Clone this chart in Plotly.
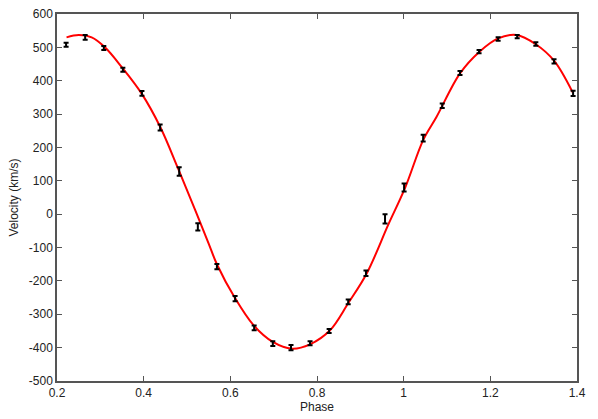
import plotly.graph_objects as go

# observed radial velocities (phase, km/s, error)
obs_phase = [0.221, 0.265, 0.308, 0.352, 0.396, 0.438, 0.482, 0.525, 0.569, 0.611,
             0.655, 0.698, 0.740, 0.784, 0.828, 0.872, 0.913, 0.957, 1.001, 1.045,
             1.089, 1.130, 1.174, 1.218, 1.262, 1.305, 1.347, 1.391]
obs_velocity = [508, 530, 498, 433, 362, 260, 128, -38, -157, -253,
                -341, -388, -400, -387, -350, -263, -177, -14, 80, 228,
                325, 423, 487, 525, 532, 510, 458, 362]
obs_error = [6, 7, 6, 6, 7, 9, 13, 11, 8, 8,
             7, 7, 8, 6, 6, 7, 8, 14, 12, 10,
             7, 6, 5, 5, 5, 5, 6, 8]

# fitted orbit
fit_phase = [0.222, 0.25, 0.28, 0.31, 0.35, 0.395, 0.438, 0.48, 0.518, 0.55,
             0.569, 0.611, 0.653, 0.698, 0.742, 0.784, 0.83, 0.872, 0.915, 0.965,
             1.003, 1.045, 1.076, 1.13, 1.175, 1.218, 1.261, 1.304, 1.347, 1.39]
fit_velocity = [530, 537, 530, 501, 440, 362, 262, 135, 15, -88,
                -150, -252, -332, -383, -403, -390, -348, -267, -177, -30,
                78, 222, 292, 422, 487, 527, 537, 510, 460, 365]

x_ticks = [0.2, 0.4, 0.6, 0.8, 1.0, 1.2, 1.4]
x_ticktext = ["0.2", "0.4", "0.6", "0.8", "1", "1.2", "1.4"]
y_ticks = list(range(-500, 601, 100))
y_ticktext = [str(v) for v in y_ticks]  # plain hyphen minus, like the original

FONT = "Liberation Sans, Arial, Helvetica, sans-serif"

fig = go.Figure()
fig.add_trace(go.Scatter(
    x=fit_phase, y=fit_velocity, mode="lines",
    line=dict(color="#ff0000", width=2, shape="spline", smoothing=1.0),
    showlegend=False, hoverinfo="skip",
))
fig.add_trace(go.Scatter(
    x=obs_phase, y=obs_velocity, mode="markers",
    marker=dict(size=1, color="black"),
    error_y=dict(type="data", array=obs_error, visible=True,
                 color="black", thickness=2, width=2.5),
    showlegend=False,
))

axis_style = dict(
    showline=True, linecolor="#555555", linewidth=1.5, mirror="ticks",
    ticks="inside", ticklen=5, tickcolor="#555555", tickwidth=1,
    showgrid=False, zeroline=False, automargin=False, ticklabeloverflow="allow",
    tickfont=dict(family=FONT, size=12, color="#222222"),
)

# page body adds an 8px offset, so the figure is sized to fit inside the window
fig.update_layout(
    width=590, height=411,
    margin=dict(l=49, r=21, t=6, b=38),
    plot_bgcolor="white", paper_bgcolor="white",
    font=dict(family=FONT, size=12, color="#222222"),
)
fig.update_xaxes(
    **axis_style, range=[0.2, 1.4], tickvals=x_ticks, ticktext=x_ticktext,
    title=dict(text="Phase", standoff=3, font=dict(size=12)),
)
fig.update_yaxes(
    **axis_style, range=[-500, 600], tickvals=y_ticks, ticktext=y_ticktext,
)
# y title as an annotation so it can sit closer to the page edge
fig.add_annotation(
    text="Velocity (km/s)", textangle=-90,
    xref="paper", yref="paper", x=0, y=0.5,
    xanchor="center", yanchor="middle", xshift=-44,
    showarrow=False, font=dict(family=FONT, size=12, color="#222222"),
)

fig.write_html("out.html")
